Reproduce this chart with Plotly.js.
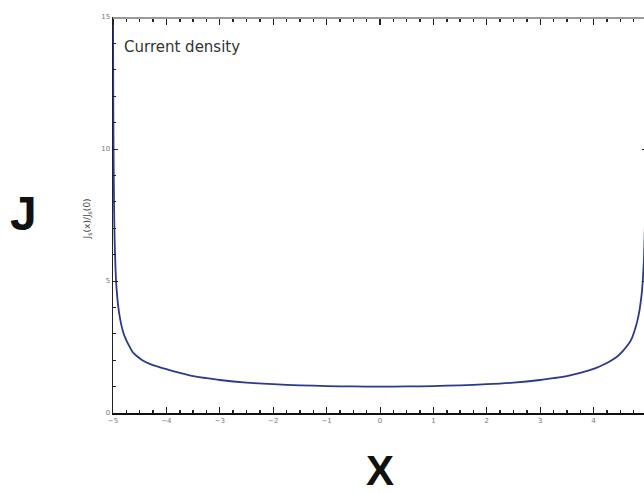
<!DOCTYPE html>
<html>
<head>
<meta charset="utf-8">
<script src="https://cdn.plot.ly/plotly-3.0.1.min.js"></script>
<style>
html,body{margin:0;padding:0;overflow:hidden;background:#fff;}
#chart{width:648px;height:493px;}
</style>
</head>
<body>
<div id="chart"></div>
<script>
// Values
const xPos = [-5, -4.995, -4.99, -4.98, -4.97, -4.955, -4.94, -4.92, -4.9, -4.87, -4.84, -4.8, -4.75, -4.7, -4.63, -4.55, -4.45, -4.3, -4.15, -4, -3.75, -3.5, -3.25, -3, -2.5, -2, -1.5, -1, -0.5, 0,
              0.5, 1, 1.5, 2, 2.5, 3, 3.25, 3.5, 3.75, 4, 4.15, 4.3, 4.45, 4.55, 4.65, 4.72, 4.78, 4.82, 4.86, 4.9, 4.92, 4.94, 4.96, 4.98];
const jRatio = [15.5, 12, 10, 7.8, 6.6, 5.6, 4.9, 4.4, 4.0, 3.6, 3.3, 3.0, 2.75, 2.55, 2.3, 2.15, 2.0, 1.85, 1.75, 1.66, 1.52, 1.4, 1.32, 1.25, 1.15, 1.09, 1.05, 1.02, 1.005, 1.0,
                1.005, 1.02, 1.05, 1.09, 1.15, 1.25, 1.32, 1.4, 1.52, 1.67, 1.8, 1.95, 2.15, 2.35, 2.6, 2.85, 3.2, 3.5, 3.9, 4.5, 5.0, 5.7, 7.0, 10.0];
const xTickStep = 1;
const yTickStep = 5;

const trace = {
  x: xPos, y: jRatio, type: 'scatter', mode: 'lines',
  line: {color: '#2b3a8c', width: 1.8, shape: 'spline', smoothing: 0.6},
  hoverinfo: 'skip'
};
const topTrace = {
  x: xPos, y: jRatio, xaxis: 'x2', yaxis: 'y', type: 'scatter', mode: 'lines',
  line: {color: 'rgba(0,0,0,0)', width: 0}, hoverinfo: 'skip'
};

const tickFont = {family: 'DejaVu Sans, sans-serif', size: 7, color: '#777'};

const layout = {
  width: 648, height: 493,
  margin: {l: 113, r: 1, t: 17, b: 80},
  paper_bgcolor: '#fff', plot_bgcolor: '#fff',
  showlegend: false,
  xaxis: {
    range: [-5, 5], tickmode: 'linear', tick0: 0, dtick: xTickStep,
    ticks: 'inside', ticklen: 6, tickwidth: 1, tickcolor: '#222',
    minor: {dtick: 0.25, tick0: 0, ticks: 'inside', ticklen: 3, tickwidth: 1.5, tickcolor: '#222'},
    showline: true, linecolor: '#111', linewidth: 1.5,
    showgrid: false, zeroline: false, tickfont: tickFont
  },
  xaxis2: {
    overlaying: 'x', side: 'bottom', anchor: 'free', position: 1, range: [-5, 5],
    tickmode: 'linear', tick0: 0, dtick: xTickStep, showticklabels: false,
    ticks: 'outside', ticklen: 6, tickwidth: 1.2, tickcolor: '#222',
    minor: {dtick: 0.25, tick0: 0, ticks: 'outside', ticklen: 3, tickwidth: 1.5, tickcolor: '#222'},
    showline: true, linecolor: '#9a9a9a', linewidth: 1.5,
    showgrid: false, zeroline: false
  },
  yaxis: {
    range: [0, 15], tickmode: 'linear', tick0: 0, dtick: yTickStep, domain: [0, 1],
    ticks: 'inside', ticklen: 5, tickcolor: '#222',
    minor: {dtick: 1, ticks: 'inside', ticklen: 3, tickcolor: '#222'},
    showline: true, linecolor: '#222', linewidth: 1.5, mirror: 'ticks',
    showgrid: false, zeroline: false, tickfont: tickFont
  },
  annotations: [
    {xref: 'paper', yref: 'paper', x: 0.016, y: 0.925, xanchor: 'left', yanchor: 'middle',
     text: 'Current density', showarrow: false,
     font: {family: 'DejaVu Sans, sans-serif', size: 15, color: '#333'}},
    {xref: 'paper', yref: 'paper', x: -0.046, y: 0.49, xanchor: 'center', yanchor: 'middle',
     text: 'J<sub>s</sub>(x)/J<sub>s</sub>(0)', textangle: -90, showarrow: false,
     font: {family: 'DejaVu Sans, sans-serif', size: 9, color: '#444'}},
    {xref: 'paper', yref: 'paper', x: -0.168, y: 0.505, xanchor: 'center', yanchor: 'middle',
     text: '<b>J</b>', showarrow: false,
     font: {family: 'Liberation Sans, Arial, sans-serif', size: 48, color: '#111'}},
    {xref: 'paper', yref: 'paper', x: 0.5, y: -0.145, xanchor: 'center', yanchor: 'middle',
     text: '<b>X</b>', showarrow: false,
     font: {family: 'Liberation Sans, Arial, sans-serif', size: 42, color: '#111'}}
  ]
};

Plotly.newPlot('chart', [topTrace, trace], layout, {displayModeBar: false, staticPlot: true});
</script>
</body>
</html>
